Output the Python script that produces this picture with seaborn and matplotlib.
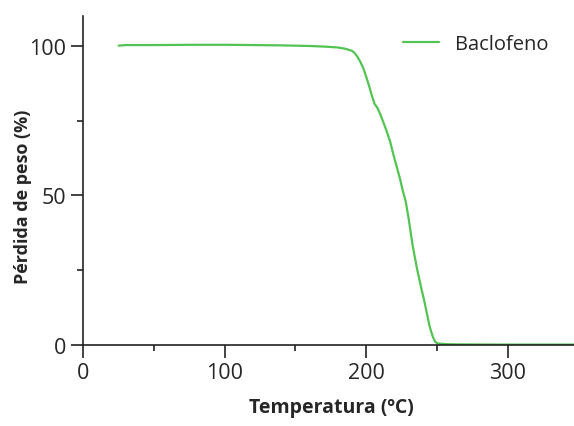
import pandas as pd
import seaborn as sns
import matplotlib.pyplot as plt
from matplotlib.ticker import MultipleLocator

# curva TGA
temperatura = [25, 30, 50, 80, 100, 120, 140, 160, 170, 180, 185, 190, 192, 194,
               196, 198, 200, 202, 204, 206, 208, 210, 213, 215, 217, 220, 222,
               224, 226, 228, 230, 233, 236, 239, 241, 243, 245, 247, 248, 249,
               250, 252, 255, 260, 270, 300, 347]
peso = [100.1, 100.3, 100.3, 100.4, 100.4, 100.3, 100.2, 100.0, 99.8, 99.5,
        99.1, 98.4, 97.6, 96.3, 94.6, 92.6, 89.8, 86.8, 83.5, 80.6, 79.3, 77.2,
        73.5, 70.8, 68.0, 62.4, 59.0, 55.5, 51.5, 48.0, 42.5, 33.0, 25.5, 19.0,
        15.0, 10.5, 6.0, 3.0, 1.8, 1.0, 0.6, 0.4, 0.3, 0.2, 0.15, 0.1, 0.1]

df = pd.DataFrame({"Temperatura": temperatura, "Peso": peso})

sns.set_style("ticks")
plt.rcParams["font.family"] = ["Open Sans", "DejaVu Sans"]

fig = plt.figure(figsize=(5.74, 4.27), dpi=100)
ax = fig.add_axes([0.145, 0.19, 0.855, 0.77])

sns.lineplot(data=df, x="Temperatura", y="Peso", color="#52c452",
             linewidth=1.6, label="Baclofeno", ax=ax)

ax.set_xlim(0, 347)
ax.set_ylim(0, 110)
ax.xaxis.set_major_locator(MultipleLocator(100))
ax.xaxis.set_minor_locator(MultipleLocator(50))
ax.yaxis.set_major_locator(MultipleLocator(50))
ax.yaxis.set_minor_locator(MultipleLocator(25))
ax.tick_params(which="major", length=9, width=1.2, labelsize=15.5, color="#222222")
ax.tick_params(which="minor", length=4.5, width=1.2, color="#222222")

for s in ["top", "right"]:
    ax.spines[s].set_visible(False)
for s in ["left", "bottom"]:
    ax.spines[s].set_linewidth(1.2)
    ax.spines[s].set_color("#222222")

ax.set_xlabel("Temperatura (ºC)", fontsize=14, fontweight="bold")
ax.set_ylabel("Pérdida de peso (%)", fontsize=13, fontweight="bold")
ax.xaxis.set_label_coords(0.505, -0.16)
ax.yaxis.set_label_coords(-0.105, 0.453)

ax.legend(loc="upper right", frameon=False, fontsize=14.5, handlelength=1.8,
          bbox_to_anchor=(0.985, 1.0))

fig.savefig("out.png", dpi=100)
